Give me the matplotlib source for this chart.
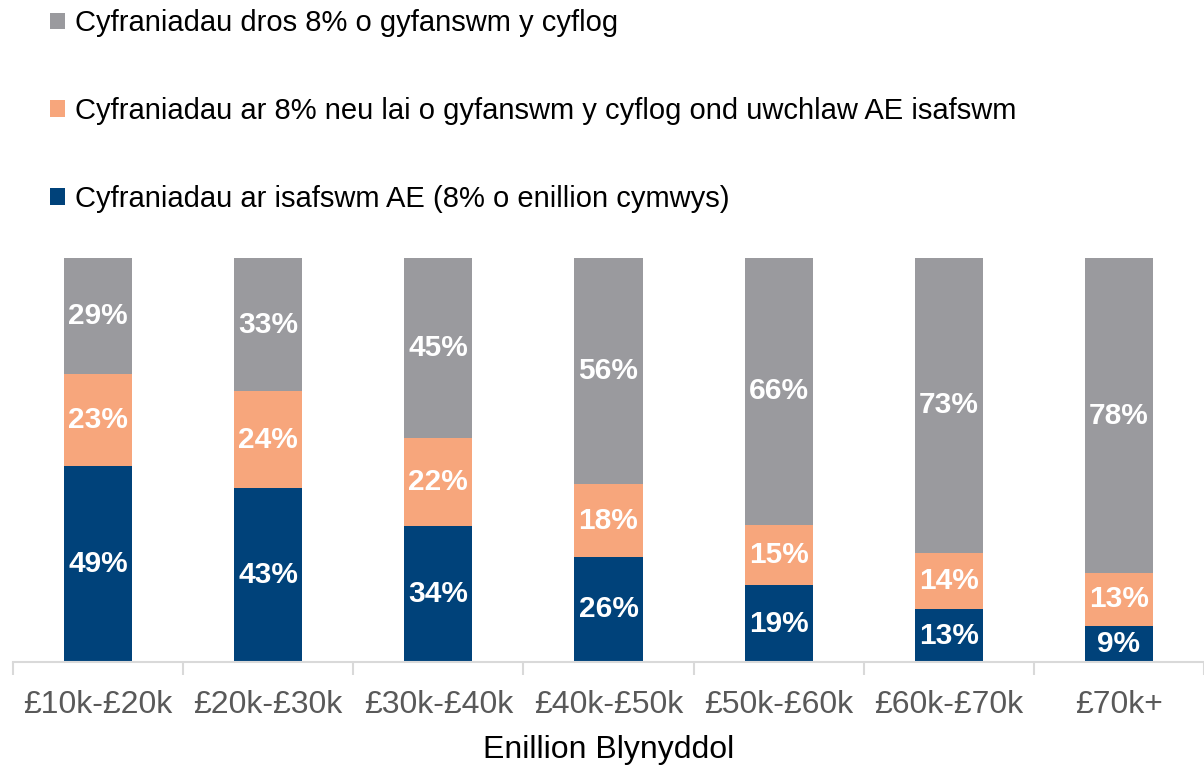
import numpy as np
import matplotlib.pyplot as plt

plt.rcParams['font.family'] = ['Liberation Sans', 'DejaVu Sans']

categories = ['£10k-£20k', '£20k-£30k', '£30k-£40k', '£40k-£50k', '£50k-£60k', '£60k-£70k', '£70k+']
at_minimum = [49, 43, 34, 26, 19, 13, 9]
up_to_8 = [23, 24, 22, 18, 15, 14, 13]
over_8 = [29, 33, 45, 56, 66, 73, 78]
series_labels = [
    'Cyfraniadau ar isafswm AE (8% o enillion cymwys)',
    'Cyfraniadau ar 8% neu lai o gyfanswm y cyflog ond uwchlaw AE isafswm',
    'Cyfraniadau dros 8% o gyfanswm y cyflog',
]
colors = ['#00427a', '#f7a67c', '#9a9a9e']

data = np.array([at_minimum, up_to_8, over_8], dtype=float)
shares = data / data.sum(axis=0)

fig = plt.figure(figsize=(12.04, 7.66), dpi=100)
ax = fig.add_axes([13 / 1204, 1 - 662 / 766, 1 - 13 / 1204, 404 / 766])

x = np.arange(len(categories))
bottom = np.zeros(len(categories))
handles = []
for vals, share, col, lab in zip(data, shares, colors, series_labels):
    bars = ax.bar(x, share, 0.4, bottom=bottom, color=col, label=lab)
    handles.append(bars)
    for xi, b, s, v in zip(x, bottom, share, vals):
        ax.text(xi, b + s / 2, f'{v:.0f}%', ha='center', va='center',
                color='white', fontsize=21.5, fontweight='bold')
    bottom += share

ax.set_xlim(-0.5, len(categories) - 0.5)
ax.set_ylim(0, 1)
ax.set_yticks([])
for s in ['top', 'right', 'left']:
    ax.spines[s].set_visible(False)
ax.spines['bottom'].set_color('#d9d9d9')
ax.spines['bottom'].set_linewidth(1.5)
ax.set_xticks(x)
ax.set_xticklabels(categories, fontsize=23, color='#595959')
ax.tick_params(axis='x', length=0, pad=20)
ax.set_xticks(np.arange(len(categories) + 1) - 0.5, minor=True)
ax.tick_params(axis='x', which='minor', length=9, width=1.5, color='#d9d9d9')
ax.set_xlabel('Enillion Blynyddol', fontsize=23, color='#000000', labelpad=11)

fig.legend(handles[::-1], series_labels[::-1], loc='upper left',
           bbox_to_anchor=(24 / 1204, 1 + 17 / 766), frameon=False,
           fontsize=21, handlelength=0.5, handleheight=0.5, handletextpad=0.35,
           labelspacing=2.05)

fig.savefig('out.png', dpi=100)
